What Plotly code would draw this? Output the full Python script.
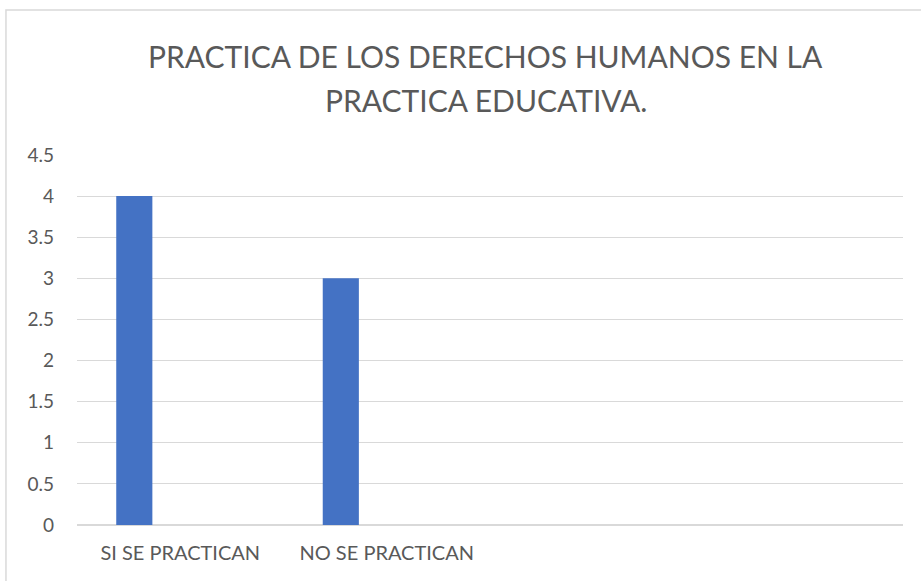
import plotly.graph_objects as go

# datos
categorias = ['SI SE PRACTICAN', 'NO SE PRACTICAN', ' ', '  ']
valores = [4, 3, None, None]
titulo = ['PRACTICA DE LOS DERECHOS HUMANOS EN LA', 'PRACTICA EDUCATIVA.']

fig = go.Figure()
fig.add_trace(
    go.Bar(
        x=categorias, y=valores,
        marker=dict(color='#4472C4', line=dict(width=0)),
        width=0.175, offset=-0.31,
    )
)

# titulo en dos lineas (annotations para controlar el interlineado)
for i, linea in enumerate(titulo):
    fig.add_annotation(
        text=linea, xref='paper', yref='paper',
        x=(485.5 - 77) / 826, y=(525 - (56 + 44 * i)) / 370,
        xanchor='center', yanchor='middle', showarrow=False,
        font=dict(size=30, color='#595959', family='Lato'),
    )

fig.update_layout(
    width=921, height=581,
    margin=dict(l=77, r=18, t=155, b=56),
    paper_bgcolor='white', plot_bgcolor='white',
    font=dict(family='Lato', color='#595959', size=18),
    showlegend=False,
    xaxis=dict(
        type='category', categoryorder='array', categoryarray=categorias,
        range=[-0.5, 3.5], showgrid=False, showline=False, ticks='',
        tickfont=dict(size=20), ticklabelstandoff=14,
    ),
    yaxis=dict(
        range=[0, 4.5], dtick=0.5, showgrid=True, gridcolor='#d9d9d9', gridwidth=1,
        zeroline=True, zerolinecolor='#d9d9d9', zerolinewidth=1.5,
        showline=False, ticks='', ticklabelstandoff=22,
        tickfont=dict(size=19),
    ),
    shapes=[dict(
        type='rect', xref='paper', yref='paper',
        x0=-0.086, x1=1.2, y0=-0.4, y1=1.392,
        line=dict(color='#d9d9d9', width=1.5), fillcolor='rgba(0,0,0,0)', layer='below',
    )],
)

# quitar el margen del body para que la figura empiece en (0, 0)
fig.write_html("out.html", config={'displayModeBar': False},
               post_script="document.body.style.margin='0px';")
